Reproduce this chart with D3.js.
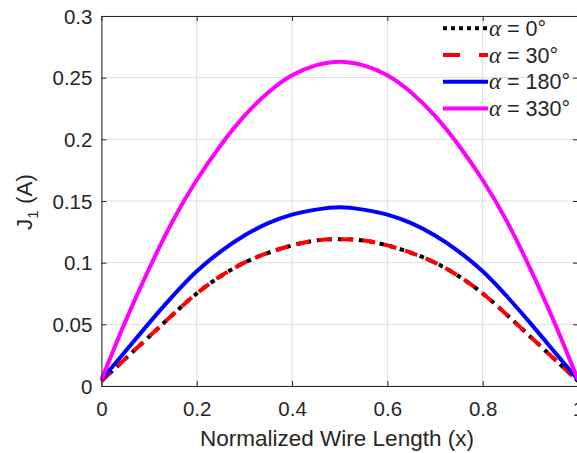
<!DOCTYPE html>
<html>
<head>
<meta charset="utf-8">
<script src="https://cdn.jsdelivr.net/npm/d3@7"></script>
<style>
  html, body { margin: 0; padding: 0; background: #fff; }
  svg { display: block; }
  text { font-family: "Liberation Sans", Arial, sans-serif; fill: #262626; }
</style>
</head>
<body>
<svg id="chart" width="577" height="453"></svg>
<script>
// x positions along the wire (normalized)
const xPos = [0, 0.05, 0.1, 0.15, 0.2, 0.25, 0.3, 0.35, 0.4, 0.45, 0.5,
  0.55, 0.6, 0.65, 0.7, 0.75, 0.8, 0.85, 0.9, 0.95, 1];

// J1 values for each alpha
const alpha0 = [0.004, 0.022, 0.040, 0.058, 0.075, 0.089, 0.100, 0.108, 0.114, 0.118, 0.119,
  0.118, 0.114, 0.108, 0.100, 0.089, 0.075, 0.058, 0.040, 0.022, 0.004];
const alpha30 = [0.004, 0.022, 0.040, 0.058, 0.075, 0.089, 0.100, 0.108, 0.114, 0.118, 0.119,
  0.118, 0.114, 0.108, 0.100, 0.089, 0.075, 0.058, 0.040, 0.022, 0.004];
const alpha180 = [0.005, 0.028, 0.051, 0.073, 0.093, 0.109, 0.122, 0.132, 0.139, 0.143, 0.145,
  0.143, 0.139, 0.132, 0.122, 0.109, 0.093, 0.073, 0.051, 0.028, 0.005];
const alpha330 = [0.005, 0.052, 0.095, 0.134, 0.167, 0.195, 0.219, 0.238, 0.252, 0.260, 0.263,
  0.260, 0.252, 0.238, 0.219, 0.195, 0.167, 0.134, 0.095, 0.052, 0.005];

const xTicks = [0, 0.2, 0.4, 0.6, 0.8, 1];
const yTicks = [0, 0.05, 0.1, 0.15, 0.2, 0.25, 0.3];
const legendLabels = ['0°', '30°', '180°', '330°'];

const series = [
  { vals: alpha0, color: '#000000', dash: '4.5,6', legDash: '4,4' },
  { vals: alpha30, color: '#ff0000', dash: '13,9', legDash: '17,19' },
  { vals: alpha180, color: '#0000ff', dash: null, legDash: null },
  { vals: alpha330, color: '#ff00ff', dash: null, legDash: null },
];

const svg = d3.select('#chart');
const padL = 101.4;
const padR = 578;
const padT = 16;
const padB = 386;

const x = d3.scaleLinear().domain([0, 1]).range([padL, padR]);
const y = d3.scaleLinear().domain([0, 0.3]).range([padB, padT]);

// grid
const grid = svg.append('g');
grid.selectAll('.gx')
  .data(xTicks)
  .enter()
  .append('line')
  .attr('x1', d => x(d))
  .attr('x2', d => x(d))
  .attr('y1', padT)
  .attr('y2', padB)
  .attr('stroke', '#dedede')
  .attr('stroke-width', 1);
grid.selectAll('.gy')
  .data(yTicks)
  .enter()
  .append('line')
  .attr('x1', padL)
  .attr('x2', padR)
  .attr('y1', d => y(d))
  .attr('y2', d => y(d))
  .attr('stroke', '#dedede')
  .attr('stroke-width', 1);

// curves
const line = d3.line()
  .x((d, i) => x(xPos[i]))
  .y(d => y(d))
  .curve(d3.curveNatural);

series.forEach((s) => {
  svg.append('path')
    .attr('d', line(s.vals))
    .attr('fill', 'none')
    .attr('stroke', s.color)
    .attr('stroke-width', 4)
    .attr('stroke-dasharray', s.dash);
});

// axes (box with inward ticks)
const axisColor = '#262626';
const bottomAxis = d3.axisBottom(x).tickValues(xTicks).tickSizeInner(-5).tickSizeOuter(0)
  .tickFormat(d3.format('~g'));
const leftAxis = d3.axisLeft(y).tickValues(yTicks).tickSizeInner(-5).tickSizeOuter(0)
  .tickFormat(d3.format('~g'));
const topAxis = d3.axisTop(x).tickValues(xTicks).tickSizeInner(-5).tickSizeOuter(0)
  .tickFormat('');
const rightAxis = d3.axisRight(y).tickValues(yTicks).tickSizeInner(-5).tickSizeOuter(0)
  .tickFormat('');

const gb = svg.append('g').attr('transform', `translate(0,${padB})`).call(bottomAxis);
const gl = svg.append('g').attr('transform', `translate(${padL},0)`).call(leftAxis);
const gt = svg.append('g').attr('transform', `translate(0,${padT})`).call(topAxis);
const gr = svg.append('g').attr('transform', `translate(${padR},0)`).call(rightAxis);

[gb, gl, gt, gr].forEach((g) => {
  g.select('.domain').attr('stroke', axisColor).attr('stroke-width', 1);
  g.selectAll('.tick line').attr('stroke', axisColor);
});
gb.selectAll('.tick text')
  .attr('y', 0)
  .attr('dy', null)
  .attr('transform', 'translate(0,29.5)')
  .style('font-size', '20.5px')
  .attr('font-family', null);
gl.selectAll('.tick text')
  .attr('x', -9)
  .attr('dy', '0.35em')
  .style('font-size', '20.5px')
  .attr('font-family', null);

// axis labels
svg.append('text')
  .attr('x', 337)
  .attr('y', 446)
  .attr('text-anchor', 'middle')
  .style('font-size', '22.5px')
  .text('Normalized Wire Length (x)');

const yl = svg.append('text')
  .attr('transform', 'translate(32,202) rotate(-90)')
  .attr('text-anchor', 'middle')
  .style('font-size', '22.5px');
yl.append('tspan').text('J');
yl.append('tspan').attr('dy', 6).style('font-size', '15px').text('1');
yl.append('tspan').attr('dy', -6).text(' (A)');

// legend
const legend = svg.append('g');
series.forEach((s, i) => {
  const ly = 28.3 + i * 26.7;
  legend.append('line')
    .attr('x1', 443)
    .attr('x2', 488)
    .attr('y1', ly)
    .attr('y2', ly)
    .attr('stroke', s.color)
    .attr('stroke-width', 4)
    .attr('stroke-dasharray', s.legDash);
  const t = legend.append('text')
    .attr('x', 489)
    .attr('y', ly + 7.5)
    .style('font-size', '21.5px');
  t.append('tspan')
    .style('font-family', '"Liberation Serif", serif')
    .style('font-style', 'italic')
    .style('font-size', '23px')
    .text('α');
  t.append('tspan').text(` = ${legendLabels[i]}`);
});
</script>
</body>
</html>
